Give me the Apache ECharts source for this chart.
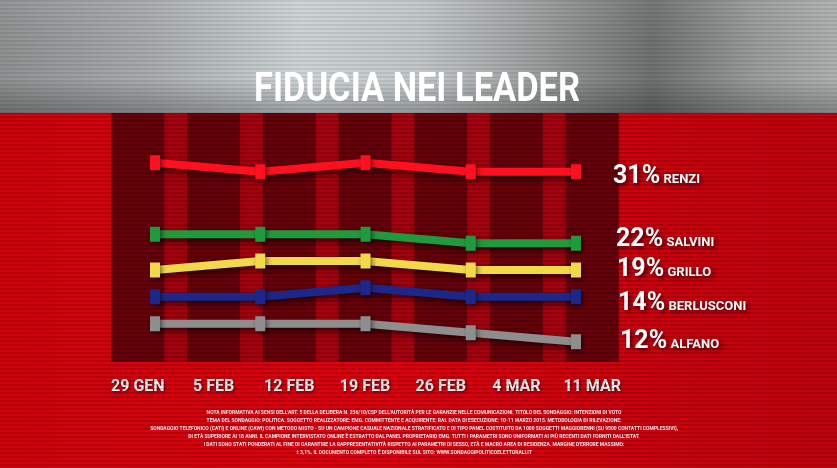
<!DOCTYPE html>
<html><head><meta charset="utf-8">
<script src="https://cdn.jsdelivr.net/npm/echarts@6/dist/echarts.min.js"></script>
<style>html,body{margin:0;padding:0;background:#c8000c}#c{width:837px;height:468px}</style>
</head><body><div id="c"></div>
<script>
// ---- data ----
const dateLabels = ['29 GEN', '5 FEB', '12 FEB', '19 FEB', '26 FEB', '4 MAR', '11 MAR'];
const surveyPoints = ['R1', 'R2', 'R3', 'R4', 'R5'];
const leaders = ['RENZI', 'SALVINI', 'GRILLO', 'BERLUSCONI', 'ALFANO'];
const renzi = [32, 31, 32, 31, 31];
const salvini = [23, 23, 23, 22, 22];
const grillo = [19, 20, 20, 19, 19];
const berlusconi = [14, 14, 15, 14, 14];
const alfano = [14, 14, 14, 13, 12];
const columnMarks = [1, 1, 1, 1, 1, 1, 1];
const footnote = [
  "NOTA INFORMATIVA AI SENSI DELL'ART. 5 DELLA DELIBERA N. 256/10/CSP DELL'AUTORITÀ PER LE GARANZIE NELLE COMUNICAZIONI. TITOLO DEL SONDAGGIO: INTENZIONI DI VOTO",
  "TEMA DEL SONDAGGIO: POLITICA. SOGGETTO REALIZZATORE: EMG. COMMITTENTE E ACQUIRENTE: RAI. DATA DI ESECUZIONE: 10-11 MARZO 2015. METODOLOGIA DI RILEVAZIONE:",
  "SONDAGGIO TELEFONICO (CATI) E ONLINE (CAWI) CON METODO MISTO - SU UN CAMPIONE CASUALE NAZIONALE STRATIFICATO E DI TIPO PANEL COSTITUITO DA 1000 SOGGETTI MAGGIORENNI (SU 9500 CONTATTI COMPLESSIVI),",
  "DI ETÀ SUPERIORE AI 18 ANNI. IL CAMPIONE INTERVISTATO ONLINE È ESTRATTO DAL PANEL PROPRIETARIO EMG. TUTTI I PARAMETRI SONO UNIFORMATI AI PIÙ RECENTI DATI FORNITI DALL'ISTAT.",
  "I DATI SONO STATI PONDERATI AL FINE DI GARANTIRE LA RAPPRESENTATIVITÀ RISPETTO AI PARAMETRI DI SESSO, ETÀ E MACRO AREA DI RESIDENZA. MARGINE D'ERRORE MASSIMO:",
  "± 3,1%. IL DOCUMENTO COMPLETO È DISPONIBILE SUL SITO: WWW.SONDAGGIPOLITICOELETTORALI.IT"
];

// ---- styles ----
const FONT = "Roboto, 'Liberation Sans', sans-serif";
const colors = ['#ff1020', '#1f9a3c', '#f2d94a', '#1d278a', '#8e8e8e'];
const axisTop = [36.08, 35.03, 35.0, 32.97, 35.97];
const labelDist = [37, 40, 41, 42, 44];
const labelOff = [[0, 4], [0, -5], [0, -2], [0, 6], [0, -1]];
const seriesData = [renzi, salvini, grillo, berlusconi, alfano];

function scanPattern(alpha) {
  const c = document.createElement('canvas');
  c.width = 4; c.height = 4;
  const g = c.getContext('2d');
  g.fillStyle = 'rgba(0,0,0,' + alpha + ')';
  g.fillRect(0, 0, 4, 2);
  return { image: c, repeat: 'repeat' };
}

const chart = echarts.init(document.getElementById('c'), null, { renderer: 'canvas' });

const yAxes = axisTop.map(t => ({ gridIndex: 0, type: 'value', min: t - 30, max: t, show: false }));
yAxes.push({ gridIndex: 1, type: 'value', min: 0, max: 1, show: false });

const shadowTxt = { textShadowColor: 'rgba(0,0,0,0.7)', textShadowBlur: 4, textShadowOffsetX: 2, textShadowOffsetY: 2 };
const lineSeries = seriesData.map((d, i) => ({
  type: 'line', xAxisIndex: 0, yAxisIndex: i, data: d, z: 5,
  symbol: 'rect', symbolSize: [10, 15], showAllSymbol: true,
  lineStyle: { width: 8, color: colors[i], shadowColor: 'rgba(0,0,0,0.65)', shadowBlur: 6, shadowOffsetX: 3, shadowOffsetY: 3 },
  itemStyle: { color: colors[i], shadowColor: 'rgba(0,0,0,0.5)', shadowBlur: 5, shadowOffsetX: 2, shadowOffsetY: 2 },
  emphasis: { disabled: true },
  endLabel: {
    show: true, distance: labelDist[i], offset: labelOff[i],
    formatter: () => '{v|' + d[d.length - 1] + '%} {n|' + leaders[i] + '}',
    rich: {
      v: Object.assign({ fontFamily: FONT, fontWeight: 'bold', fontSize: 25, color: '#fff', verticalAlign: 'bottom', lineHeight: 28 }, shadowTxt),
      n: Object.assign({ fontFamily: FONT, fontWeight: 'bold', fontSize: 13, color: '#fff', verticalAlign: 'bottom', lineHeight: 28, padding: [0, 0, 3, 0] }, shadowTxt)
    }
  }
}));

const graphics = [
  { type: 'rect', z: -10, shape: { x: 0, y: 0, width: 837, height: 113 }, silent: true,
    style: { fill: new echarts.graphic.LinearGradient(0, 0, 1, 0, [
      { offset: 0, color: '#8f9292' }, { offset: 0.18, color: '#a9adae' }, { offset: 0.36, color: '#cfd6d8' },
      { offset: 0.5, color: '#c3c9cb' }, { offset: 0.62, color: '#a3a6a6' }, { offset: 0.78, color: '#707272' },
      { offset: 0.9, color: '#9a9c9c' }, { offset: 1, color: '#b0b2b2' }]) } },
  { type: 'rect', z: -9, shape: { x: 0, y: 0, width: 837, height: 113 }, silent: true,
    style: { fill: new echarts.graphic.LinearGradient(0, 0, 0, 1, [
      { offset: 0, color: 'rgba(255,255,255,0.05)' }, { offset: 0.7, color: 'rgba(0,0,0,0)' }, { offset: 1, color: 'rgba(0,0,0,0.25)' }]) } },
  { type: 'rect', z: -8, shape: { x: 0, y: 0, width: 837, height: 113 }, silent: true, style: { fill: scanPattern(0.08) } },
  { type: 'rect', z: -10, shape: { x: 0, y: 113, width: 837, height: 355 }, silent: true,
    style: { fill: new echarts.graphic.LinearGradient(0, 0, 1, 0, [
      { offset: 0, color: '#d4000e' }, { offset: 0.45, color: '#e0000f' }, { offset: 1, color: '#c4000c' }]) } },
  { type: 'rect', z: -9, shape: { x: 112, y: 113, width: 507, height: 249 }, silent: true, style: { fill: '#a8000e' } },
  { type: 'rect', z: 3, shape: { x: 0, y: 113, width: 837, height: 355 }, silent: true, style: { fill: scanPattern(0.18) } },
  { type: 'text', z: 10, x: 417, y: 91, scaleX: 0.84, silent: true,
    style: { text: 'FIDUCIA NEI LEADER', fontFamily: FONT, fontWeight: 'bold', fontSize: 41, fill: '#fff', align: 'center', verticalAlign: 'middle',
      shadowColor: 'rgba(0,0,0,0.8)', shadowBlur: 6, shadowOffsetX: 3, shadowOffsetY: 3 } }
];
footnote.forEach((t, k) => graphics.push({
  type: 'text', z: 10, x: 414, y: 412 + k * 8, scaleX: 0.83, silent: true,
  style: { text: t, fontFamily: FONT, fontWeight: 'bold', fontSize: 6, fill: 'rgba(255,255,255,0.9)', align: 'center', verticalAlign: 'middle' }
}));

chart.setOption({
  animation: false,
  backgroundColor: 'transparent',
  grid: [
    { left: 155, right: 261, top: 126, height: 270 },
    { left: 100, width: 530, top: 113, height: 249 }
  ],
  xAxis: [
    { gridIndex: 0, type: 'category', data: surveyPoints, boundaryGap: false, show: false },
    { gridIndex: 1, type: 'category', data: dateLabels, boundaryGap: true,
      axisLine: { show: false }, axisTick: { show: false },
      axisLabel: { color: '#fff', fontFamily: FONT, fontWeight: 'bold', fontSize: 16, margin: 17, interval: 0,
        textShadowColor: 'rgba(0,0,0,0.6)', textShadowBlur: 3, textShadowOffsetX: 1, textShadowOffsetY: 1 } }
  ],
  yAxis: yAxes,
  series: [
    { type: 'bar', xAxisIndex: 1, yAxisIndex: 5, data: columnMarks, barWidth: 53, silent: true, z: 1,
      itemStyle: { color: '#68000a' }, emphasis: { disabled: true } }
  ].concat(lineSeries),
  graphic: graphics
});
</script></body></html>
